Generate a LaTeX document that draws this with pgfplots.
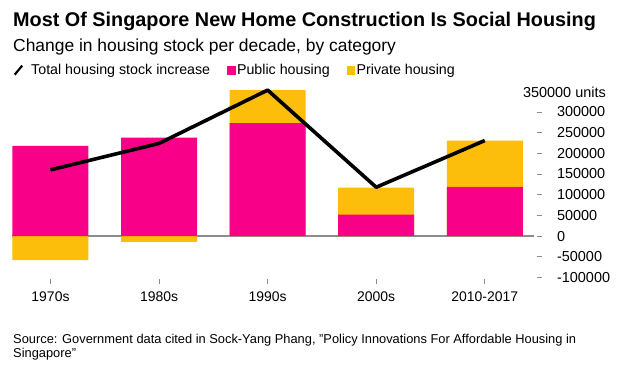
\documentclass[border=0pt]{standalone}
\usepackage{pgfplots}
\pgfplotsset{compat=1.18}
\usepackage{pgfplotstable}
\usepackage{fontspec}
\setmainfont{Liberation Sans}
\definecolor{bpink}{RGB}{248,0,135}
\definecolor{byellow}{RGB}{252,190,10}
\definecolor{bgray}{RGB}{140,140,140}

% public, private: change per decade; yel: outer end of the private bar segment; total: total stock increase
\pgfplotstableread{
x public private yel total
0 218000 -58000 -58000 160000
1 238000 -14000 -14000 224000
2 273000 80000 353000 353000
3 52000 65000 117000 118000
4 119000 112000 231000 231000
}\housing

\begin{document}
\begin{tikzpicture}
\path[use as bounding box] (0,0) rectangle (620bp,-368bp);
\node[anchor=base west, inner sep=0, font=\fontsize{19.9}{22}\selectfont\bfseries] at (13bp,-26.5bp) {Most Of Singapore New Home Construction Is Social Housing};
\node[anchor=base west, inner sep=0, font=\fontsize{17.5}{20}\selectfont] at (13bp,-51bp) {Change in housing stock per decade, by category};
\node[anchor=base west, inner sep=0, font=\fontsize{12.9}{14}\selectfont] at (13bp,-343bp) {Source: Government data cited in Sock-Yang Phang, "Policy Innovations For Affordable Housing in};
\node[anchor=base west, inner sep=0, font=\fontsize{12.9}{14}\selectfont] at (13bp,-357bp) {Singapore"};
\node[anchor=base east, inner sep=0, font=\fontsize{14.5}{16}\selectfont] at (606bp,-97bp) {350000 units};
\begin{axis}[
  at={(7.06bp,-281.5bp)}, anchor=south west,
  scale only axis, width=532bp, height=194.3bp,
  xmin=-0.4, xmax=4.5, ymin=-110000, ymax=360000,
  axis line style={draw=none},
  clip=false,
  xtick={0,1,2,3,4},
  xticklabels={1970s,1980s,1990s,2000s,2010-2017},
  xtick pos=bottom,
  ytick={-100000,-50000,0,50000,100000,150000,200000,250000,300000},
  yticklabels={-100000,-50000,0,50000,100000,150000,200000,250000,300000},
  ytick pos=right, yticklabel pos=right,
  tick align=center,
  major tick length=5bp,
  tick style={bgray, line width=0.9bp},
  tick label style={font=\fontsize{14.5}{16}\selectfont},
  xticklabel style={font=\fontsize{14}{16}\selectfont, yshift=-4bp},
  yticklabel style={xshift=12bp},
  scaled y ticks=false,
  legend style={at={(0.0112,1.088)}, anchor=west, draw=none, fill=none,
    font=\fontsize{14.3}{16}\selectfont, inner sep=0pt,
    /tikz/every even column/.append style={column sep=15bp}},
  legend columns=-1, legend cell align=left,
]
\addplot[bgray, line width=1.4bp, forget plot] coordinates {(-0.35,0) (4.45,0)};
\addplot[ybar, bar width=0.7, bar shift=0pt, fill=byellow, draw=none, forget plot] table[x=x, y=yel] {\housing};
\addplot[ybar, bar width=0.7, bar shift=0pt, fill=bpink, draw=none, forget plot] table[x=x, y=public] {\housing};
\addplot[black, line width=3.6bp, line join=round, forget plot] table[x=x, y=total] {\housing};
\addlegendimage{legend image code/.code={\path[draw=none, fill=none] (0bp,-1bp) rectangle (16bp,1bp); \draw[black, line width=2.2bp] (1.5bp,-4.5bp) -- (9bp,4.5bp);}}
\addlegendentry{Total housing stock increase}
\addlegendimage{legend image code/.code={\fill[bpink] (0bp,-3.8bp) rectangle (7.5bp,3.8bp);}}
\addlegendentry{Public housing}
\addlegendimage{legend image code/.code={\fill[byellow] (0bp,-3.8bp) rectangle (7.5bp,3.8bp);}}
\addlegendentry{Private housing}
\end{axis}
\end{tikzpicture}
\end{document}
